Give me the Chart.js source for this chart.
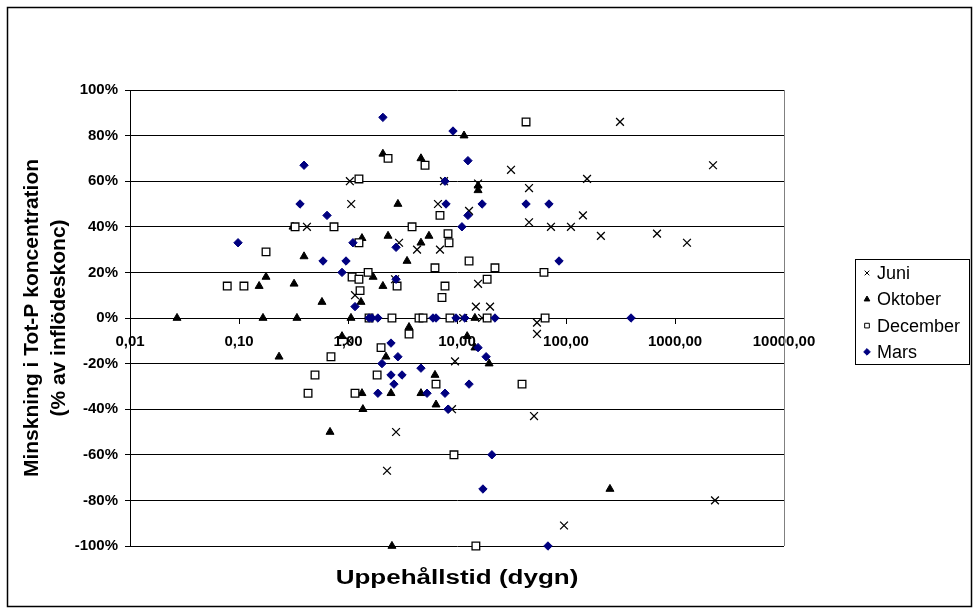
<!DOCTYPE html>
<html>
<head>
<meta charset="utf-8">
<script src="https://cdn.jsdelivr.net/npm/chart.js@4.4.1/dist/chart.umd.min.js"></script>
<style>
  html, body { margin: 0; padding: 0; background: #fff; }
  #wrap { width: 979px; height: 614px; position: relative; }
</style>
</head>
<body>
<div id="wrap"><canvas id="chart"></canvas></div>
<script>
// Uppehållstid (dygn) and minskning (%) for each month
const juniX = [0.42, 1.04, 1.07, 1.16, 1.02, 2.28, 2.76, 2.70, 2.94, 4.30, 6.98, 6.69, 7.60, 12.9, 15.6, 15.6, 14.9, 20.1, 11.4, 17.0, 9.59, 9.0, 31.3, 45.8, 45.8, 72.8, 111, 143, 156, 209, 313, 54.2, 54.2, 50.9, 95.9, 684, 1288, 2232, 2328];
const juniY = [40, 60, 50, 10, -10, -67, -50, 17, 33, 30, 30, 50, 60, 47, 59, 15, 5, 5, 0, 0, -19, -40, 65, 57, 42, 40, 40, 45, 61, 36, 86, -2, -7, -43, -91, 37, 33, 67, -80];

const oktoberX = [0.027, 0.166, 0.34, 0.233, 0.153, 0.177, 0.32, 0.313, 0.395, 0.577, 0.684, 0.881, 1.065, 1.316, 1.343, 1.70, 2.09, 2.09, 2.23, 2.33, 2.87, 3.48, 3.63, 4.67, 4.67, 5.53, 6.28, 6.42, 1.343, 1.37, 2.48, 2.53, 4.67, 11.6, 15.6, 15.6, 14.6, 12.4, 14.6, 19.7, 253];
const oktoberY = [0, 0, 0, -17, 14, 18, 15, 40, 27, 7, -50, -8, 0, 7, 35, 18, 14, 72, -17, 36, 50, 25, -4, 70, 33, 36, -25, -38, -33, -40, -33, -100, -33, 80, 58, 56, 0, -8, -13, -20, -75];

const decemberX = [0.078, 0.111, 0.177, 0.327, 0.43, 0.498, 0.698, 0.744, 1.09, 1.16, 1.26, 1.26, 1.26, 1.29, 1.53, 1.56, 1.85, 2.01, 2.33, 2.53, 2.82, 3.63, 3.87, 4.48, 4.88, 5.09, 6.42, 6.28, 6.98, 7.28, 7.76, 8.27, 8.45, 8.62, 9.38, 12.9, 14.9, 18.9, 18.9, 22.3, 39.5, 43.0, 62.8, 64.3];
const decemberY = [14, 14, 29, 40, -33, -25, -17, 40, 18, -33, 61, 33, 17, 12, 20, 0, -25, -13, 70, 0, 14, -7, 40, 0, 0, 67, -29, 22, 45, 9, 14, 37, 33, 0, -60, 25, -100, 17, 0, 22, -29, 86, 20, 0];

const marsX = [0.098, 0.395, 0.363, 0.642, 0.59, 0.881, 0.959, 1.11, 1.16, 1.56, 1.66, 1.88, 1.88, 2.05, 2.09, 2.48, 2.48, 2.64, 2.76, 2.76, 2.87, 3.13, 4.67, 5.31, 6.02, 6.42, 7.76, 7.93, 7.76, 8.27, 9.19, 9.79, 11.1, 11.8, 12.6, 12.6, 12.9, 15.6, 17.0, 17.3, 18.5, 20.9, 22.3, 43.0, 69.8, 68.3, 86.3, 395];
const marsY = [33, 67, 50, 45, 25, 20, 25, 33, 5, 0, 0, 0, -33, -20, 88, -11, -25, -29, 31, 17, -17, -25, -22, -33, 0, 0, 60, 50, -33, -40, 82, 0, 40, 0, 69, 45, -29, -13, 50, -75, -17, -60, 0, 50, 50, -100, 25, 0];

// Tick values and labels of the axes
const xTicks = [0.01, 0.1, 1, 10, 100, 1000, 10000];
const xTickLabels = ["0,01", "0,10", "1,00", "10,00", "100,00", "1000,00", "10000,00"];
const yTicks = [-100, -80, -60, -40, -20, 0, 20, 40, 60, 80, 100];
const seriesNames = ["Juni", "Oktober", "December", "Mars"];
const xTitle = "Uppehållstid (dygn)";
const yTitle = ["Minskning i Tot-P koncentration", "(% av inflödeskonc)"];

// This function joins the x and y lists into points for the chart
function to_points(xs, ys) {
  return xs.map((x, i) => ({ x: x, y: ys[i] }));
}

// The look of every month, same order as seriesNames
const looks = [
  { pointStyle: "crossRot", radius: 5.5, backgroundColor: "#000", borderColor: "#000", borderWidth: 1.3, order: 4 },
  { pointStyle: "triangle", radius: 4.6, backgroundColor: "#000", borderColor: "#000", borderWidth: 1, order: 3 },
  { pointStyle: "rect", radius: 5.4, backgroundColor: "#fff", borderColor: "#000", borderWidth: 1.3, order: 2 },
  { pointStyle: "rectRot", radius: 4.2, backgroundColor: "#000080", borderColor: "#000080", borderWidth: 1, order: 1 }
];
const allX = [juniX, oktoberX, decemberX, marsX];
const allY = [juniY, oktoberY, decemberY, marsY];

const datasets = seriesNames.map((name, i) => ({
  label: name,
  data: to_points(allX[i], allY[i]),
  pointStyle: looks[i].pointStyle,
  pointRadius: looks[i].radius,
  pointBackgroundColor: looks[i].backgroundColor,
  pointBorderColor: looks[i].borderColor,
  pointBorderWidth: looks[i].borderWidth,
  order: looks[i].order,
  clip: false
}));

// This plugin paints the white background, the frames, the axis titles and the legend box
const frame_plugin = {
  id: "frame",
  beforeDraw(chart) {
    const ctx = chart.ctx;
    ctx.save();
    ctx.fillStyle = "#fff";
    ctx.fillRect(0, 0, chart.width, chart.height);
    ctx.restore();
  },
  afterDraw(chart) {
    const ctx = chart.ctx;
    const area = chart.chartArea;
    ctx.save();
    // Outer frame of the whole picture
    ctx.strokeStyle = "#000";
    ctx.lineWidth = 1.5;
    ctx.strokeRect(7.5, 7.5, 964, 599);
    // Right edge of the plot area
    ctx.strokeStyle = "#808080";
    ctx.lineWidth = 1;
    ctx.beginPath();
    ctx.moveTo(Math.round(area.right) + 0.5, area.top);
    ctx.lineTo(Math.round(area.right) + 0.5, area.bottom);
    ctx.stroke();
    // Axis titles (the picture is a bit stretched sideways, so the x title is too)
    ctx.fillStyle = "#000";
    ctx.font = "bold 20px Arial";
    ctx.textAlign = "center";
    ctx.textBaseline = "middle";
    ctx.save();
    ctx.translate((area.left + area.right) / 2, 578);
    ctx.scale(1.3, 1);
    ctx.fillText(xTitle, 0, 0);
    ctx.restore();
    ctx.save();
    ctx.font = "bold 21px Arial";
    ctx.translate(32, (area.top + area.bottom) / 2);
    ctx.rotate(-Math.PI / 2);
    ctx.fillText(yTitle[0], 0, 0);
    ctx.fillText(yTitle[1], 0, 27);
    ctx.restore();
    // Legend box with the same markers as the points
    ctx.strokeStyle = "#000";
    ctx.lineWidth = 1;
    ctx.strokeRect(855.5, 259.5, 114, 105);
    ctx.font = "18px Arial";
    ctx.textAlign = "left";
    seriesNames.forEach((name, i) => {
      const y = 273 + i * 26.3;
      ctx.fillStyle = looks[i].backgroundColor;
      ctx.strokeStyle = looks[i].borderColor;
      ctx.lineWidth = 1;
      Chart.helpers.drawPoint(ctx, { pointStyle: looks[i].pointStyle, radius: 3.3, rotation: 0, borderWidth: 1 }, 867, y);
      ctx.fillStyle = "#000";
      ctx.fillText(name, 877, y + 1);
    });
    ctx.restore();
  }
};

const tickFont = { family: "Arial", size: 15, weight: "bold" };

// Creates the chart object
const chart = new Chart(document.getElementById("chart").getContext("2d"), {
  type: "scatter",
  data: { datasets: datasets },
  options: {
    responsive: true,
    maintainAspectRatio: false,
    animation: false,
    layout: { padding: { top: 90, right: 195, bottom: 68, left: 0 } },
    plugins: { legend: { display: false }, tooltip: { enabled: false } },
    scales: {
      x: {
        type: "logarithmic",
        min: 0.01,
        max: 10000,
        position: { y: 0 },
        afterFit: (s) => { s.height = 0; },
        afterBuildTicks: (s) => { s.ticks = xTicks.map(v => ({ value: v })); },
        ticks: { callback: (v, i) => xTickLabels[i], font: tickFont, color: "#000", padding: 10, autoSkip: false, maxRotation: 0 },
        grid: { drawOnChartArea: false, drawTicks: true, tickLength: 5, color: "#000" },
        border: { color: "#000" }
      },
      y: {
        min: -100,
        max: 100,
        afterFit: (s) => { s.width = 130; },
        afterBuildTicks: (s) => { s.ticks = yTicks.map(v => ({ value: v })); },
        ticks: { callback: (v) => v + "%", font: tickFont, color: "#000", padding: 7 },
        grid: { color: "#000", tickLength: 5 },
        border: { color: "#000" }
      }
    }
  },
  plugins: [frame_plugin]
});
</script>
</body>
</html>
